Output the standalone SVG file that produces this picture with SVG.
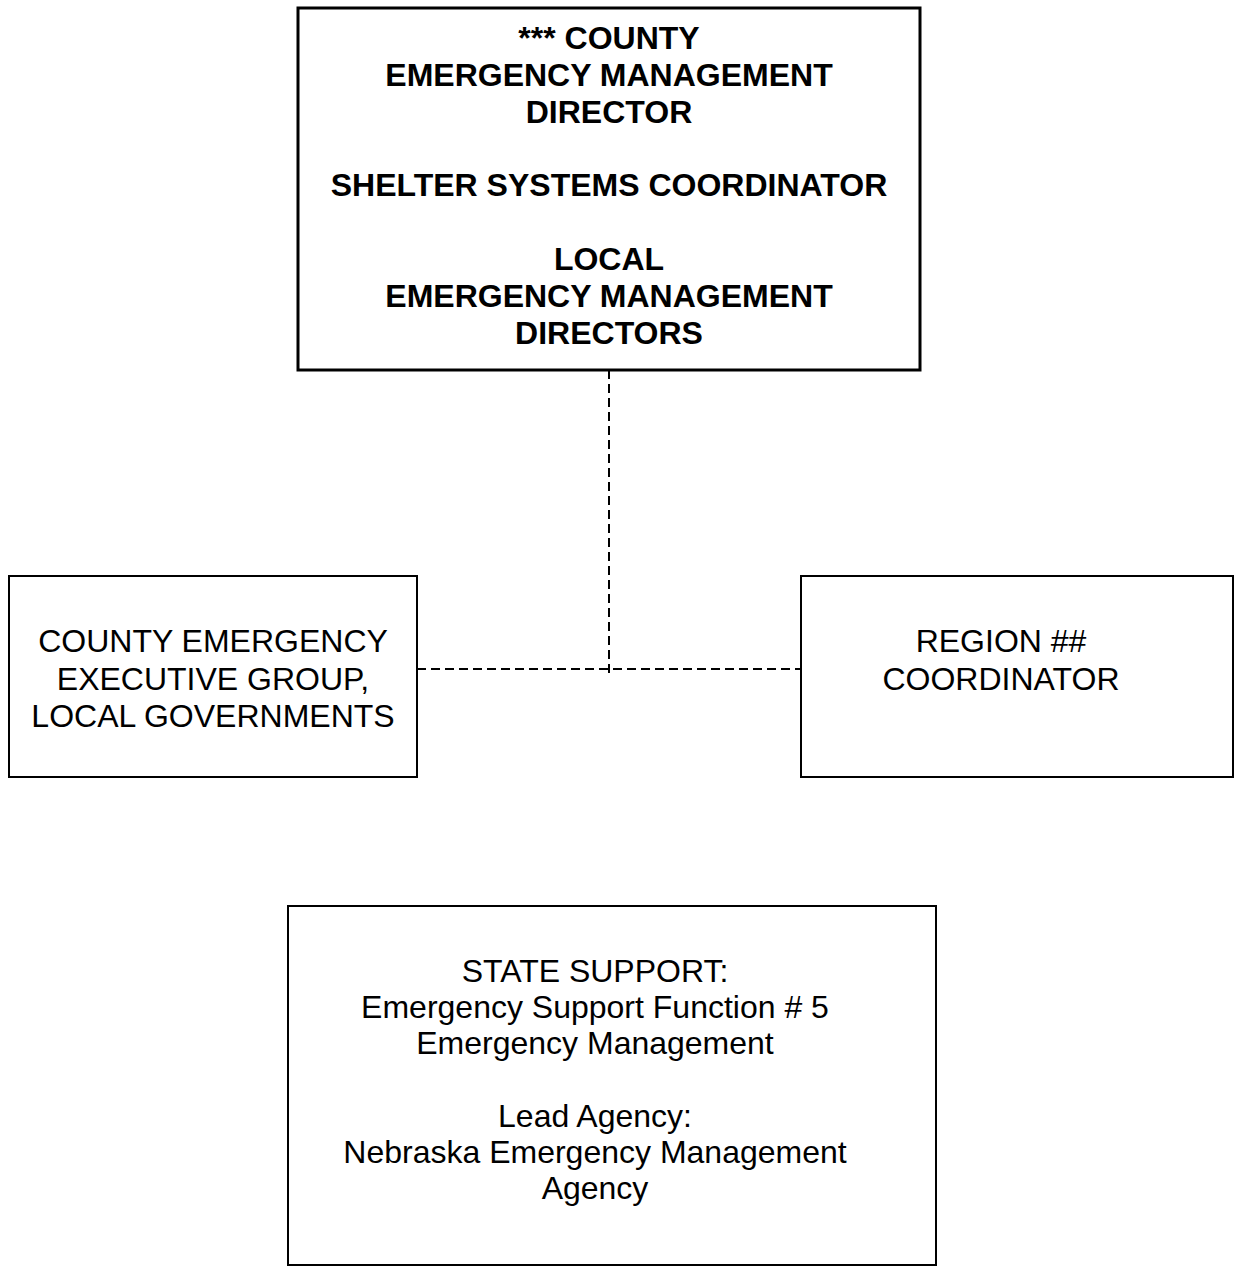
<svg xmlns="http://www.w3.org/2000/svg" width="1241" height="1266" viewBox="0 0 1241 1266">
<style>
.box{fill:#fff;stroke:#000;stroke-width:2}
.thick{stroke-width:3}
.t{font-family:"Liberation Sans",Arial,sans-serif;font-size:32px;fill:#000;text-anchor:middle}
.b{font-weight:bold}
.conn{stroke:#000;stroke-width:2;stroke-dasharray:9 5;fill:none}
</style>
<rect width="1241" height="1266" fill="#fff"/>
<g id="connectors">
<line class="conn" x1="609" y1="370" x2="609" y2="676"/>
<line class="conn" x1="417" y1="669" x2="801" y2="669"/>
</g>
<g id="county-director">
<rect class="box thick" x="298" y="8" width="622" height="362"/>
<text class="t b" x="609" y="49">*** COUNTY</text>
<text class="t b" x="609" y="86">EMERGENCY MANAGEMENT</text>
<text class="t b" x="609" y="123">DIRECTOR</text>
<text class="t b" x="609" y="196">SHELTER SYSTEMS COORDINATOR</text>
<text class="t b" x="609" y="270">LOCAL</text>
<text class="t b" x="609" y="307">EMERGENCY MANAGEMENT</text>
<text class="t b" x="609" y="344">DIRECTORS</text>
</g>
<g id="executive-group">
<rect class="box" x="9" y="576" width="408" height="201"/>
<text class="t" x="213" y="652">COUNTY EMERGENCY</text>
<text class="t" x="213" y="690">EXECUTIVE GROUP,</text>
<text class="t" x="213" y="727">LOCAL GOVERNMENTS</text>
</g>
<g id="region-coordinator">
<rect class="box" x="801" y="576" width="432" height="201"/>
<text class="t" x="1001" y="652">REGION ##</text>
<text class="t" x="1001" y="690">COORDINATOR</text>
</g>
<g id="state-support">
<rect class="box" x="288" y="906" width="648" height="359"/>
<text class="t" x="595" y="982">STATE SUPPORT:</text>
<text class="t" x="595" y="1018">Emergency Support Function # 5</text>
<text class="t" x="595" y="1054">Emergency Management</text>
<text class="t" x="595" y="1127">Lead Agency:</text>
<text class="t" x="595" y="1163">Nebraska Emergency Management</text>
<text class="t" x="595" y="1199">Agency</text>
</g>
</svg>
